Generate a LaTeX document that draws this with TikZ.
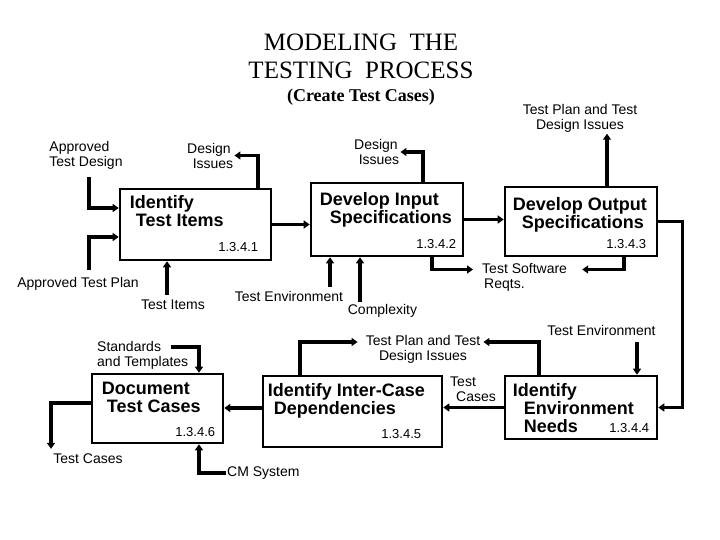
\documentclass[tikz,border=0pt]{standalone}
\usepackage{fontspec}
\setmainfont{Liberation Serif}
\setsansfont{Liberation Sans}
\usetikzlibrary{arrows.meta,positioning}

\begin{document}
\begin{tikzpicture}[x=1pt,y=-1pt,
  procbox/.style={draw, line width=2.6pt, inner sep=0pt},
  boxtxt/.style={inner sep=0pt, align=left, font=\sffamily\bfseries\fontsize{18}{18}\selectfont},
  num/.style={inner sep=0pt, font=\sffamily\fontsize{13}{13}\selectfont},
  lbl/.style={inner sep=1pt, font=\sffamily\fontsize{14}{15}\selectfont},
  flow/.style={line width=3.4pt, -{Triangle[length=6pt,width=8pt]}}]
  \useasboundingbox (0,0) rectangle (720,540);

  % title
  \node[font=\rmfamily\fontsize{25}{28}\selectfont, align=center] (ttl) at (361,56) {MODELING\ \ THE\\TESTING\ \ PROCESS};
  \node[font=\rmfamily\bfseries\fontsize{18}{18}\selectfont] (sub) at (361,97) {(Create Test Cases)};

  % process boxes
  \node[procbox, minimum width=151pt, minimum height=71pt] (itm) at (195.5,224.5) {};
  \node[procbox, minimum width=152pt, minimum height=73pt] (inp) at (387,219.5) {};
  \node[procbox, minimum width=152pt, minimum height=69pt] (outp) at (581,221.5) {};
  \node[procbox, minimum width=152pt, minimum height=63pt] (env) at (581,407.5) {};
  \node[procbox, minimum width=179pt, minimum height=71pt] (ics) at (352.5,411.5) {};
  \node[procbox, minimum width=131pt, minimum height=69pt] (doc) at (157.5,408.5) {};

  \node[boxtxt, below right=8pt and 11pt of itm.north west] (itm-t) {Identify\\\hspace*{6pt}Test Items};
  \node[boxtxt, below right=11pt and 10pt of inp.north west] (inp-t) {Develop Input\\\hspace*{10pt}Specifications};
  \node[boxtxt, below right=12pt and 9pt of outp.north west] (outp-t) {Develop Output\\\hspace*{9pt}Specifications};
  \node[boxtxt, below right=9pt and 9pt of env.north west] (env-t) {Identify\\\hspace*{11pt}Environment\\\hspace*{11pt}Needs};
  \node[boxtxt, below right=9pt and 6pt of ics.north west] (ics-t) {Identify Inter-Case\\\hspace*{6pt}Dependencies};
  \node[boxtxt, below right=9pt and 11pt of doc.north west] (doc-t) {Document\\\hspace*{5pt}Test Cases};

  \node[num, above left=9pt and 14pt of itm.south east] (itm-n) {1.3.4.1};
  \node[num, above left=8pt and 8pt of inp.south east] (inp-n) {1.3.4.2};
  \node[num, above left=8pt and 12pt of outp.south east] (outp-n) {1.3.4.3};
  \node[num, above left=7pt and 9pt of env.south east] (env-n) {1.3.4.4};
  \node[num, above left=9pt and 22pt of ics.south east] (ics-n) {1.3.4.5};
  \node[num, above left=7pt and 9pt of doc.south east] (doc-n) {1.3.4.6};

  % labels
  \node[lbl, align=left] (apd) at (86,155) {Approved\\Test Design};
  \node[lbl] (apl) at (78,284) {Approved Test Plan};
  \node[lbl] (ti) at (173,305) {Test Items};
  \node[lbl, align=center] (di1) at (209,155.5) {Design\\\hspace*{8pt}Issues};
  \node[lbl, align=center] (di2) at (376,152) {Design\\\hspace*{6pt}Issues};
  \node[lbl, align=center] (tpd1) at (580,118.5) {Test Plan and Test\\Design Issues};
  \node[lbl] (te1) at (289,296) {Test Environment};
  \node[lbl] (cx) at (382.5,311) {Complexity};
  \node[lbl, align=left, anchor=west] (tsr) at (481,277.5) {Test Software\\\hspace*{2pt}Reqts.};
  \node[lbl] (te2) at (601.5,330) {Test Environment};
  \node[lbl, align=center] (tpd2) at (423,349.5) {Test Plan and Test\\Design Issues};
  \node[lbl, align=left, anchor=west] (tc1) at (449,389) {Test\\\hspace*{6pt}Cases};
  \node[lbl, align=left, anchor=west] (st) at (96,355) {Standards\\and Templates};
  \node[lbl] (tc2) at (88,459) {Test Cases};
  \node[lbl, anchor=west] (cm) at (226,473) {CM System};

  \coordinate (apd-end) at (89,177);
  \coordinate (apl-end) at (89,270);
  \coordinate (ti-end) at (167,295);
  \coordinate (te1-end) at (330,287);
  \coordinate (cx-end) at (360,302);
  \coordinate (te2-end) at (637,342);
  \coordinate (st-end) at (171,347);
  \coordinate (o3) at ([xshift=26pt]outp.north);

  % connectors
  \draw[flow] (apd-end) |- ([yshift=16.5pt]itm.west);
  \draw[flow] (apl-end) |- ([yshift=-12.5pt]itm.west);
  \draw[flow] (ti-end) -- (ti-end |- itm.south);
  \draw[flow] ([xshift=62.5pt]itm.north) |- (di1.east);
  \draw[flow] ([xshift=36pt]inp.north) |- (di2.east);
  \draw[flow] (o3) -- (o3 |- tpd1.south);
  \draw[flow] (itm.east) -- (itm.east -| inp.west);
  \draw[flow] (inp.east) -- (inp.east -| outp.west);
  \draw[flow] (te1-end) -- (te1-end |- inp.south);
  \draw[flow] (cx-end) -- (cx-end |- inp.south);
  \draw[flow] ([xshift=45pt]inp.south) |- ([shift={(-8pt,8pt)}]tsr.west);
  \draw[flow] ([xshift=43pt]outp.south) |- ([shift={(14pt,8pt)}]tsr.east);
  \draw[flow] (outp.east) -- ++(24,0) |- (env.east);
  \draw[flow] (te2-end) -- (te2-end |- env.north);
  \draw[flow] ([xshift=-42pt]env.north) |- ([shift={(2pt,7.5pt)}]tpd2.east);
  \draw[flow] ([xshift=-52.5pt]ics.north) |- ([shift={(-7pt,7.5pt)}]tpd2.west);
  \draw[flow] (env.west) -- (env.west -| ics.east);
  \draw[flow] ([yshift=3.5pt]ics.west) -- ([yshift=3.5pt]ics.west -| doc.east);
  \draw[flow] (st-end) -| ([xshift=41.5pt]doc.north);
  \draw[flow] ([yshift=5.5pt]doc.west) -| ([shift={(-37pt,4pt)}]tc2.north);
  \draw[flow] (cm.west) -| ([xshift=41.5pt]doc.south);
\end{tikzpicture}
\end{document}
